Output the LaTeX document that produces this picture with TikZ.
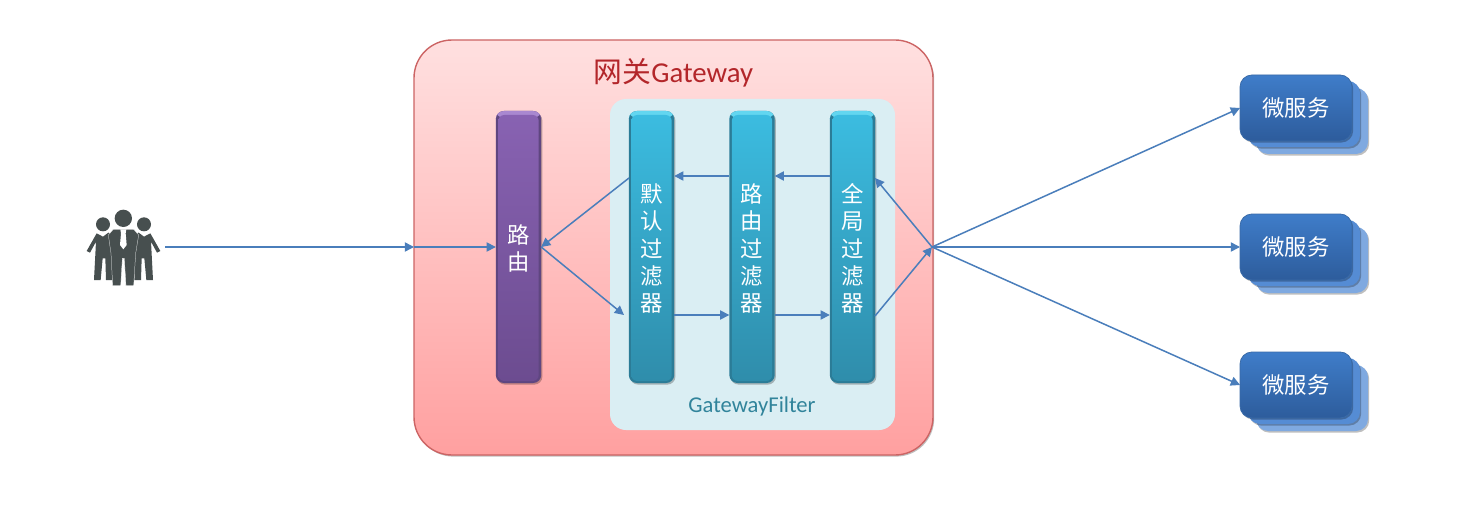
\documentclass[tikz,border=0pt]{standalone}
\usepackage{fontspec}
\setmainfont{Carlito}
\newfontfamily\cjk{Noto Sans CJK SC}
\usetikzlibrary{arrows.meta,shadows,calc}
\definecolor{linkblue}{HTML}{4A7EBB}
\definecolor{iconcol}{HTML}{474F4F}
\definecolor{gwtop}{HTML}{FFE0E0}
\definecolor{gwlow}{HTML}{FFA0A0}
\definecolor{gwedge}{HTML}{CC6464}
\definecolor{panelcol}{HTML}{DAEEF3}
\definecolor{purpleedge}{HTML}{5F4680}
\definecolor{purplelight}{HTML}{A988D0}
\definecolor{purplemain}{HTML}{8862B2}
\definecolor{purplelow}{HTML}{6C4C90}
\definecolor{tealedge}{HTML}{2B7C97}
\definecolor{teallight}{HTML}{62D6F0}
\definecolor{tealmain}{HTML}{3BBCE0}
\definecolor{teallow}{HTML}{2F8DAB}
\definecolor{cardbackcol}{HTML}{7FA9E0}
\definecolor{cardmidcol}{HTML}{558CD4}
\definecolor{cardhigh}{HTML}{3F7DC9}
\definecolor{cardlow}{HTML}{2D5C9C}
\definecolor{cardedge}{HTML}{3A6BA8}
\definecolor{titlecol}{HTML}{B3262A}
\definecolor{paneltextcol}{HTML}{31849B}
\newcommand{\topgap}{\rule{0pt}{11pt}}
\tikzset{
  softshadow/.style={drop shadow={shadow xshift=0.6pt,shadow yshift=-0.8pt,opacity=.25,fill=black}},
  gatewaybox/.style={rounded corners=19pt,minimum width=259.5pt,minimum height=207.5pt,inner sep=0pt,outer sep=0pt,draw=gwedge,line width=.7pt,top color=gwtop,bottom color=gwlow,softshadow},
  filterpanel/.style={rounded corners=8pt,minimum width=142.5pt,minimum height=165.5pt,inner sep=0pt,outer sep=0pt,fill=panelcol},
  barbox/.style={minimum width=22.7pt,minimum height=136pt,inner sep=0pt,outer sep=0pt,rounded corners=4pt,softshadow,align=center,text=white,
    font=\cjk\fontsize{11.2}{13.6}\selectfont},
  purplebar/.style={barbox,fill=purpleedge,path picture={
     \fill[purplelight] (path picture bounding box.north west) rectangle ($(path picture bounding box.north east)+(0,7)$);
     \shade[rounded corners=3pt,top color=purplemain,bottom color=purplelow] ($(path picture bounding box.north west)+(2.5,4)$) rectangle ($(path picture bounding box.south east)+(-2.5,-2)$);}},
  tealbar/.style={barbox,fill=tealedge,path picture={
     \fill[teallight] (path picture bounding box.north west) rectangle ($(path picture bounding box.north east)+(0,7)$);
     \shade[rounded corners=3pt,top color=tealmain,middle color=tealmain,bottom color=teallow] ($(path picture bounding box.north west)+(2.5,4)$) rectangle ($(path picture bounding box.south east)+(-2.5,-2)$);}},
  cardbase/.style={minimum width=56pt,minimum height=33pt,inner sep=0pt,outer sep=0pt,rounded corners=6pt,softshadow},
  cardback/.style={cardbase,fill=cardbackcol},
  cardmid/.style={cardbase,fill=cardmidcol},
  cardfront/.style={cardbase,top color=cardhigh,bottom color=cardlow,draw=cardedge,line width=.4pt,text=white,font=\cjk\fontsize{11.2}{13}\selectfont},
  link/.style={draw=linkblue,line width=.75pt,-{Triangle[length=4.6pt,width=4.6pt]}},
  titletext/.style={inner sep=0pt,text=titlecol,font=\fontsize{14.4}{16}\selectfont},
  paneltext/.style={inner sep=0pt,text=paneltextcol,font=\fontsize{11.3}{13}\selectfont},
  iconfill/.style={fill=iconcol},
  iconline/.style={fill=iconcol,draw=white,line width=.12pt}
}
\begin{document}
\begin{tikzpicture}[x=0.5pt,y=-0.5pt]
\useasboundingbox[fill=white] (0,0) rectangle (1462,519);

% users icon
\begin{scope}[shift={(70,190)},x=0.16667pt,y=-0.16667pt]
  \fill[iconfill] (99,103) circle[radius=21];
  \fill[iconfill] (222,103) circle[radius=21];
  \fill[iconfill] (160,85) circle[radius=26];
  \fill[iconfill] (80,130) -- (50,183) -- (60,188) -- (78,155) -- (72,270) -- (92,270) -- (98,205) -- (106,205) -- (108,270) -- (128,270) -- (130,135) -- (115,128) -- (99,140) -- cycle;
  \fill[iconfill] (241,130) -- (271,183) -- (261,188) -- (243,155) -- (249,270) -- (229,270) -- (223,205) -- (215,205) -- (213,270) -- (193,270) -- (191,135) -- (206,128) -- (222,140) -- cycle;
  \path[iconline] (115,135) -- (130,118) -- (191,118) -- (206,135) -- (197,190) -- (191,287) -- (168,287) -- (163,205) -- (157,205) -- (152,287) -- (128,287) -- (123,190) -- cycle;
  \fill[white] (151,118) -- (169,118) -- (167,130) -- (170,165) -- (160,178) -- (150,165) -- (153,130) -- cycle;
\end{scope}
\coordinate (users) at (165,247);

% gateway
\node[gatewaybox] (gateway) at (673.5,247.5) {};
\node[filterpanel] (panel) at (752.5,264.5) {};
\node[titletext] (title) at (673.5,73) {{\cjk 网关}Gateway};
\node[paneltext] (paneltitle) at (752,406) {GatewayFilter};

% bars
\node[purplebar] (router) at (518.5,247) {\topgap 路\\由};
\node[tealbar] (f1) at (651.5,247) {\topgap 默\\认\\过\\滤\\器};
\node[tealbar] (f2) at (752,247) {\topgap 路\\由\\过\\滤\\器};
\node[tealbar] (f3) at (852.5,247) {\topgap 全\\局\\过\\滤\\器};

% services
\foreach \i/\dy in {1/0,2/139,3/277}{
  \node[cardback] (back\i) at (1312,121+\dy) {};
  \node[cardmid] (mid\i) at (1304,114+\dy) {};
  \node[cardfront] (svc\i) at (1296,108+\dy) {微服务};
}

\coordinate (hub) at (932,247);
\coordinate (topline) at (0,176);
\coordinate (lowline) at (0,315);
\coordinate (f1out) at (629,178);
\coordinate (f1in) at (624,315);
\coordinate (f3back) at (875,178);
\coordinate (f3out) at (875,316);

\draw[link] (users) -- (gateway.west |- users);
\draw[link] (gateway.west |- users) -- (router.west |- users);
\draw[link] (f1out) -- (router.east |- users);
\draw[link] (router.east |- users) -- (f1in);
\draw[link] (f2.west |- topline) -- (f1.east |- topline);
\draw[link] (f3.west |- topline) -- (f2.east |- topline);
\draw[link] (f1.east |- lowline) -- (f2.west |- lowline);
\draw[link] (f2.east |- lowline) -- (f3.west |- lowline);
\draw[link] (f3out) -- (hub);
\draw[link] (hub) -- (f3back);
\draw[link] (hub) -- (svc1.west);
\draw[link] (hub) -- (svc2.west);
\draw[link] (hub) -- (svc3.west);
\end{tikzpicture}
\end{document}
